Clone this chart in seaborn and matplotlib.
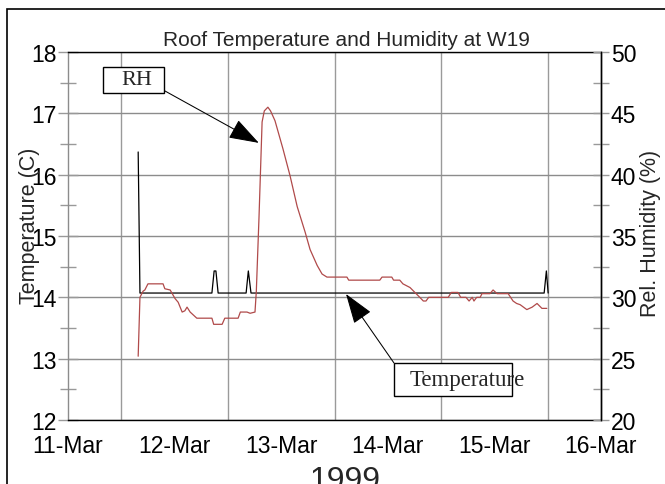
import matplotlib
matplotlib.use("Agg")
import matplotlib.pyplot as plt
import matplotlib.dates as mdates
from matplotlib.patches import Rectangle
from matplotlib.ticker import MultipleLocator
import pandas as pd
import seaborn as sns

# hours after 11-Mar-1999 00:00
start = pd.Timestamp("1999-03-11")

temp_hours = [15.8, 16.2, 32.4, 32.9, 33.3, 33.8, 40.1, 40.6, 41.2,
              107.2, 107.7, 108.1]
temp_c = [16.37, 14.07, 14.07, 14.43, 14.43, 14.07, 14.07, 14.43, 14.07,
          14.07, 14.43, 14.07]

rh_hours = [15.8, 16.2, 16.9, 17.3, 18.0, 21.4, 21.8, 23.0, 24.1, 24.8,
            25.7, 26.3, 26.8, 27.5, 29.0, 32.4, 32.8, 34.7, 35.3, 38.3,
            38.8, 40.3, 41.0, 42.1, 42.4, 43.0, 43.7, 44.2, 45.0, 45.6,
            46.6, 48.4, 50.0, 51.6, 53.4, 54.5, 56.1, 57.2, 58.3, 62.8,
            63.2, 70.2, 70.7, 72.9, 73.3, 74.7, 75.4, 77.0, 78.1, 79.2,
            80.0, 80.6, 81.2, 85.6, 86.3, 87.8, 88.4, 89.6, 90.3, 91.0,
            91.4, 92.0, 92.8, 93.2, 95.0, 95.7, 96.6, 99.1, 100.2, 101.0,
            101.8, 103.3, 104.5, 105.6, 106.7, 107.8]
rh_pct = [25.2, 30.0, 30.5, 30.6, 31.1, 31.1, 30.7, 30.6, 29.9, 29.6,
          28.8, 28.9, 29.2, 28.8, 28.3, 28.3, 27.8, 27.8, 28.3, 28.3,
          28.8, 28.8, 28.7, 28.8, 30.5, 36.5, 44.3, 45.2, 45.5, 45.2,
          44.4, 42.1, 39.9, 37.4, 35.3, 33.9, 32.6, 31.9, 31.65, 31.65,
          31.4, 31.4, 31.65, 31.65, 31.4, 31.4, 31.1, 30.8, 30.4, 30.0,
          29.7, 29.7, 30.0, 30.0, 30.4, 30.4, 30.0, 30.0, 29.7, 30.0,
          29.7, 30.0, 30.0, 30.3, 30.3, 30.6, 30.3, 30.3, 29.7, 29.5,
          29.4, 29.0, 29.2, 29.5, 29.1, 29.1]

temp = pd.DataFrame({"time": start + pd.to_timedelta(temp_hours, unit="h"),
                     "temp": temp_c})
rh = pd.DataFrame({"time": start + pd.to_timedelta(rh_hours, unit="h"),
                   "rh": rh_pct})

sns.set_style("white")
plt.rcParams["font.family"] = ["Liberation Sans", "DejaVu Sans"]

fig = plt.figure(figsize=(6.65, 4.85), dpi=100)
# outer frame of the original picture
fig.patches.append(Rectangle((7 / 665, -0.2), 1.2, 0.2 + 1 - 10 / 485,
                             transform=fig.transFigure, fill=False,
                             ec="black", lw=1.2))

ax = fig.add_axes([68 / 665, 64 / 485, 533 / 665, 368 / 485])
ax2 = ax.twinx()

sns.lineplot(data=temp, x="time", y="temp", ax=ax, color="black",
             lw=0.9, sort=False)
sns.lineplot(data=rh, x="time", y="rh", ax=ax2, color="#b04a4a",
             lw=0.9, sort=False)

ax.set_xlim(pd.Timestamp("1999-03-11"), pd.Timestamp("1999-03-16"))
ax.set_ylim(12, 18)
ax2.set_ylim(20, 50)
ax.xaxis.set_major_locator(mdates.DayLocator())
ax.xaxis.set_minor_locator(mdates.HourLocator(byhour=12))
ax.xaxis.set_major_formatter(mdates.DateFormatter("%d-%b"))
ax.yaxis.set_major_locator(MultipleLocator(1))
ax.yaxis.set_minor_locator(MultipleLocator(0.5))
ax2.yaxis.set_major_locator(MultipleLocator(5))
ax2.yaxis.set_minor_locator(MultipleLocator(2.5))

ax.grid(False)
ax2.grid(False)
ax.grid(True, axis="y", which="major", color="#8c8c8c", lw=1)
ax.grid(True, axis="x", which="minor", color="#9a9a9a", lw=1)

for side in ["top", "bottom", "right"]:
    ax.spines[side].set_color("black")
ax.spines["left"].set_color("#8c8c8c")
for side in ["top", "bottom", "left"]:
    ax2.spines[side].set_visible(False)
ax2.spines["right"].set_color("black")
for a in (ax, ax2):
    for s in a.spines.values():
        s.set_linewidth(1)

tick_kw = dict(direction="inout", color="#999999", labelsize=16.5,
               labelcolor="black")
ax.tick_params(axis="x", which="both", length=12, width=1, pad=4, **tick_kw)
ax.tick_params(axis="y", which="major", length=14, width=1, pad=1, **tick_kw)
ax.tick_params(axis="y", which="minor", length=12, width=1, **tick_kw)
ax2.tick_params(axis="y", which="major", length=12, width=1, pad=1, **tick_kw)
ax2.tick_params(axis="y", which="minor", length=11, width=1, **tick_kw)

ax.set_title("Roof Temperature and Humidity at W19", fontsize=15, pad=5,
             x=0.523)
ax.set_xlabel("1999", fontsize=23, labelpad=6)
ax.xaxis.label.set_x(0.52)
ax.set_ylabel("Temperature (C)", fontsize=15.5, va="center")
ax.yaxis.set_label_coords(-0.072, 0.53)
ax2.set_ylabel("Rel. Humidity (%)", fontsize=15.5, va="center")
ax2.yaxis.set_label_coords(1.092, 0.51)

# annotation boxes and arrows
serif = ["Liberation Serif", "DejaVu Serif"]
head = dict(arrowstyle="-|>,head_length=1.9,head_width=0.65",
            mutation_scale=10, color="black", lw=0.75,
            shrinkA=0, shrinkB=0)

ax.add_patch(Rectangle((0.0657, 0.8886), 0.1144, 0.0706,
                       transform=ax.transAxes, fc="white", ec="black",
                       lw=1, zorder=5))
ax.text(0.130, 0.926, "RH", transform=ax.transAxes, fontsize=16,
        family=serif, ha="center", va="center", zorder=6)
ax.annotate("", xy=(0.358, 0.753), xytext=(0.182, 0.894),
            xycoords="axes fraction", arrowprops=head, zorder=6)

ax.add_patch(Rectangle((0.6116, 0.0652), 0.2214, 0.0897,
                       transform=ax.transAxes, fc="white", ec="black",
                       lw=1, zorder=5))
ax.text(0.6417, 0.111, "Temperature", transform=ax.transAxes, fontsize=16.5,
        family=serif, ha="left", va="center", zorder=7)
ax.annotate("", xy=(0.5216, 0.3424), xytext=(0.6116, 0.1549),
            xycoords="axes fraction", arrowprops=head, zorder=6)

fig.savefig("out.png", dpi=100)
